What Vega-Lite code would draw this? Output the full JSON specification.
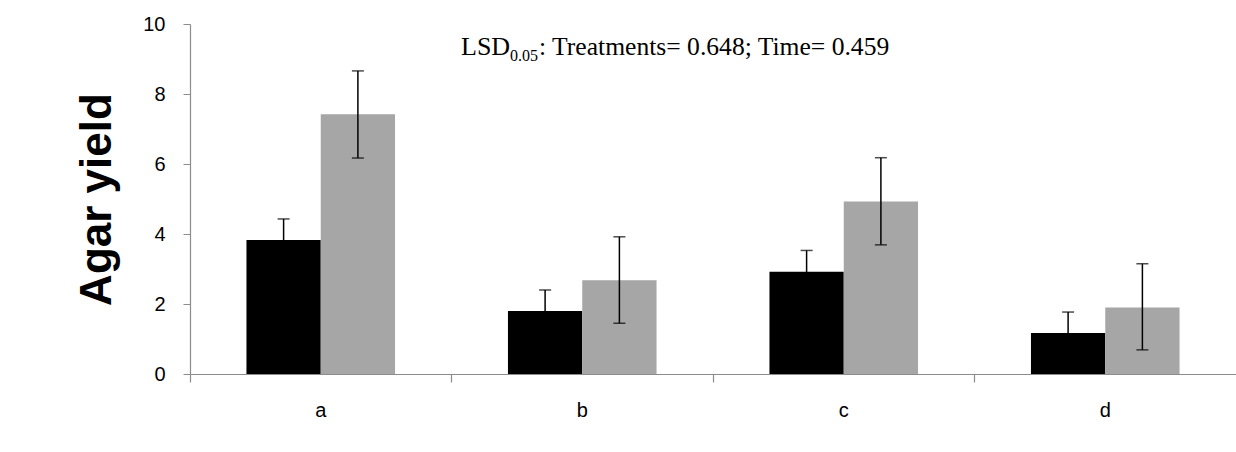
{
  "$schema": "https://vega.github.io/schema/vega-lite/v6.json",
  "width": 1046,
  "height": 350,
  "autosize": {"type": "none"},
  "padding": {"left": 190, "top": 24, "right": 0, "bottom": 78},
  "background": "white",
  "config": {"view": {"stroke": null}},
  "data": {
    "values": [
      {"cat": "a", "series": "T1", "mean": 3.83, "lo": 3.23, "hi": 4.43},
      {"cat": "a", "series": "T2", "mean": 7.42, "lo": 6.17, "hi": 8.66},
      {"cat": "b", "series": "T1", "mean": 1.80, "lo": 1.20, "hi": 2.40},
      {"cat": "b", "series": "T2", "mean": 2.68, "lo": 1.45, "hi": 3.92},
      {"cat": "c", "series": "T1", "mean": 2.92, "lo": 2.31, "hi": 3.53},
      {"cat": "c", "series": "T2", "mean": 4.93, "lo": 3.69, "hi": 6.18},
      {"cat": "d", "series": "T1", "mean": 1.17, "lo": 0.57, "hi": 1.77},
      {"cat": "d", "series": "T2", "mean": 1.90, "lo": 0.69, "hi": 3.15}
    ]
  },
  "resolve": {"axis": {"x": "independent"}},
  "layer": [
    {
      "mark": {"type": "bar"},
      "encoding": {
        "x": {
          "field": "cat", "type": "nominal",
          "scale": {"paddingInner": 0, "paddingOuter": 0},
          "axis": {
            "orient": "bottom", "title": null, "labelAngle": 0,
            "ticks": false, "tickSize": 0, "labelPadding": 26,
            "labelFont": "Liberation Sans", "labelFontSize": 20, "labelColor": "black",
            "domainColor": "#8c8c8c", "domainWidth": 1.2
          }
        },
        "xOffset": {
          "field": "series", "type": "nominal",
          "scale": {"paddingInner": 0, "paddingOuter": 0.76}
        },
        "y": {
          "field": "mean", "type": "quantitative",
          "scale": {"domain": [0, 10]},
          "axis": {
            "title": "Agar yield", "values": [0, 2, 4, 6, 8, 10], "grid": false,
            "tickSize": 7, "tickColor": "#8c8c8c", "domainColor": "#8c8c8c", "domainWidth": 1.2,
            "labelPadding": 18, "labelFont": "Liberation Sans", "labelFontSize": 20, "labelColor": "black",
            "titleFont": "Liberation Sans", "titleFontSize": 44, "titleFontWeight": "bold",
            "titleColor": "black", "titlePadding": 23
          }
        },
        "color": {
          "field": "series", "type": "nominal",
          "scale": {"domain": ["T1", "T2"], "range": ["#000000", "#a6a6a6"]},
          "legend": null
        }
      }
    },
    {
      "mark": {"type": "tick", "opacity": 0},
      "encoding": {
        "x": {
          "field": "cat", "type": "nominal",
          "axis": {
            "orient": "bottom", "title": null, "labels": false, "domain": false,
            "ticks": true, "tickSize": 8, "tickColor": "#8c8c8c", "tickWidth": 1.2,
            "bandPosition": 0
          }
        },
        "y": {"field": "mean", "type": "quantitative"}
      }
    },
    {
      "mark": {"type": "rule", "color": "black", "strokeWidth": 1.5},
      "encoding": {
        "x": {"field": "cat", "type": "nominal", "axis": null},
        "xOffset": {"field": "series", "type": "nominal"},
        "y": {"field": "lo", "type": "quantitative"},
        "y2": {"field": "hi"}
      }
    },
    {
      "mark": {"type": "tick", "color": "black", "size": 12, "thickness": 1.5},
      "encoding": {
        "x": {"field": "cat", "type": "nominal", "axis": null},
        "xOffset": {"field": "series", "type": "nominal"},
        "y": {"field": "lo", "type": "quantitative"}
      }
    },
    {
      "mark": {"type": "tick", "color": "black", "size": 12, "thickness": 1.5},
      "encoding": {
        "x": {"field": "cat", "type": "nominal", "axis": null},
        "xOffset": {"field": "series", "type": "nominal"},
        "y": {"field": "hi", "type": "quantitative"}
      }
    },
    {
      "data": {"values": [{"t": "LSD"}]},
      "mark": {"type": "text", "font": "Liberation Serif", "fontSize": 26, "align": "left", "baseline": "alphabetic", "color": "black", "dx": 9.5},
      "encoding": {
        "x": {"datum": "b", "type": "nominal", "bandPosition": 0, "axis": null},
        "y": {"datum": 9.114, "type": "quantitative"},
        "text": {"field": "t"}
      }
    },
    {
      "data": {"values": [{"t": "0.05"}]},
      "mark": {"type": "text", "font": "Liberation Serif", "fontSize": 16, "align": "left", "baseline": "alphabetic", "color": "black", "dx": 58.5, "dy": 5.5},
      "encoding": {
        "x": {"datum": "b", "type": "nominal", "bandPosition": 0, "axis": null},
        "y": {"datum": 9.114, "type": "quantitative"},
        "text": {"field": "t"}
      }
    },
    {
      "data": {"values": [{"t": ": Treatments= 0.648; Time= 0.459"}]},
      "mark": {"type": "text", "font": "Liberation Serif", "fontSize": 25.6, "align": "left", "baseline": "alphabetic", "color": "black", "dx": 87.5},
      "encoding": {
        "x": {"datum": "b", "type": "nominal", "bandPosition": 0, "axis": null},
        "y": {"datum": 9.114, "type": "quantitative"},
        "text": {"field": "t"}
      }
    }
  ]
}
